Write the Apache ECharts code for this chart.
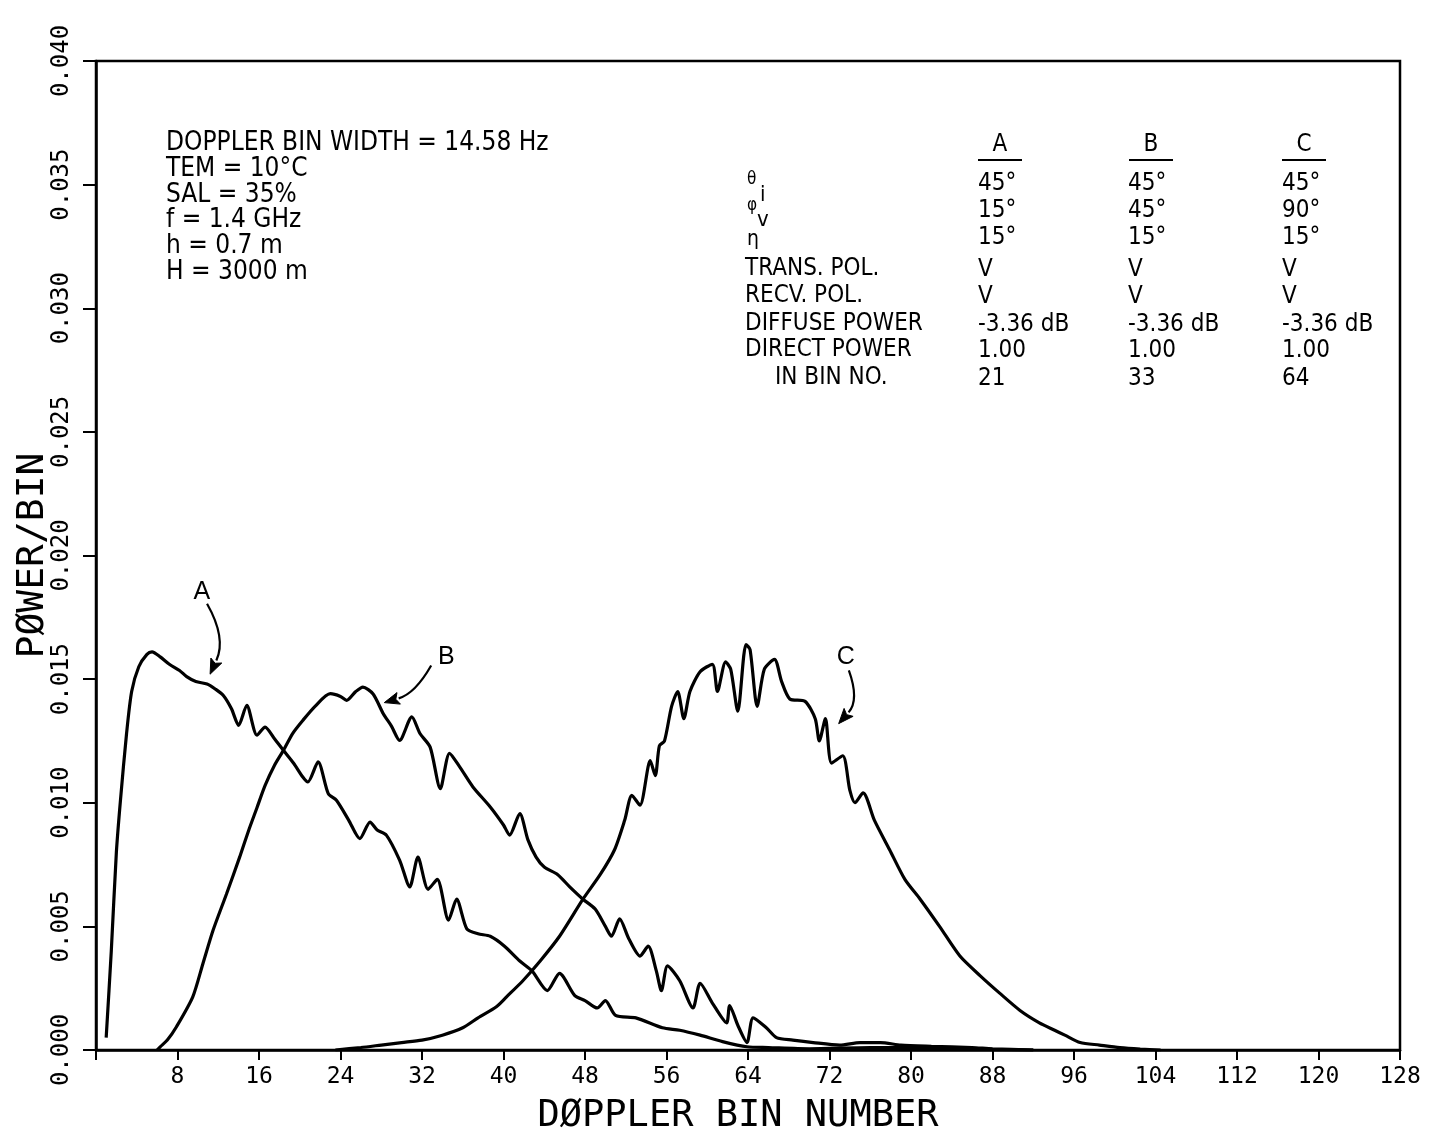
<!DOCTYPE html>
<html><head><meta charset="utf-8">
<script src="https://cdn.jsdelivr.net/npm/echarts@6/dist/echarts.min.js"></script>
<style>html,body{margin:0;padding:0;background:#fff}#c{width:1432px;height:1136px}</style>
</head><body><div id="c"></div><script>
// ---- data ----
const xTicks = [0, 8, 16, 24, 32, 40, 48, 56, 64, 72, 80, 88, 96, 104, 112, 120, 128];
const yTicks = [0, 0.005, 0.010, 0.015, 0.020, 0.025, 0.030, 0.035, 0.040];

const curveA = [[1.0,0.0005],[1.5,0.0040],[2.0,0.0080],[2.4,0.0101],[3.0,0.0128],[3.5,0.0145],[4.2,0.0155],[5.0,0.0160],[5.5,0.0161],[6.3,0.0159],[7.2,0.0156],[8.2,0.01535],[8.9,0.0151],[9.8,0.0149],[10.9,0.0148],[11.7,0.0146],[12.5,0.01434],[13.3,0.0138],[14.0,0.01313],[14.8,0.01394],[15.8,0.01273],[16.6,0.01306],[17.5,0.0126],[18.4,0.01212],[19.4,0.0116],[20.3,0.01104],[20.8,0.01084],[21.8,0.01165],[22.8,0.01037],[23.6,0.0101],[24.8,0.0093],[25.9,0.00855],[26.9,0.00922],[27.6,0.0089],[28.5,0.00869],[29.8,0.00768],[30.8,0.0066],[31.6,0.0078],[32.6,0.0065],[33.5,0.0069],[34.6,0.00525],[35.4,0.0061],[36.4,0.0049],[37.5,0.0047],[38.7,0.0046],[40.1,0.0042],[41.6,0.0036],[42.8,0.0032],[44.3,0.0024],[45.5,0.0031],[47.0,0.0022],[48.0,0.0020],[49.2,0.0017],[50.0,0.0020],[51.0,0.0014],[53.0,0.0013],[55.6,0.0009],[57.3,0.0008],[59.3,0.0006],[61.5,0.00034],[63.9,0.00013],[66,0.0001],[70,0.00005],[76,0.0001],[80,0.0001],[88,0.00003],[92,0]];

const curveB = [[6.0,0],[6.3,0.00013],[7.0,0.0004],[7.9,0.00094],[9.5,0.00215],[10.5,0.0035],[11.5,0.00485],[12.8,0.0063],[14.1,0.0078],[15.0,0.0089],[15.8,0.0098],[16.6,0.0107],[17.5,0.0115],[18.4,0.01212],[19.3,0.0128],[20.3,0.01333],[21.5,0.0139],[23.0,0.01441],[24.0,0.0143],[24.6,0.01414],[25.5,0.0145],[26.2,0.01468],[27.2,0.0144],[28.2,0.0136],[29.0,0.0131],[29.8,0.01252],[31.0,0.01347],[31.8,0.0128],[32.8,0.01225],[33.8,0.01057],[34.7,0.0120],[35.7,0.01145],[37.0,0.01064],[38.7,0.00983],[40.0,0.0091],[40.6,0.00869],[41.6,0.00956],[42.4,0.0085],[43.2,0.0078],[44.0,0.0074],[45.3,0.0071],[46.5,0.0066],[47.8,0.0061],[49.0,0.0057],[50.0,0.0050],[50.6,0.0046],[51.4,0.0053],[52.3,0.0045],[53.4,0.0038],[54.2,0.0042],[55.0,0.0032],[55.5,0.0024],[56.1,0.0034],[57.3,0.0028],[58.6,0.0017],[59.3,0.0027],[60.5,0.0019],[61.9,0.0011],[62.2,0.0018],[63.0,0.0010],[63.9,0.0003],[64.5,0.0013],[65.8,0.0009],[66.8,0.0005],[68.4,0.0004],[70.4,0.0003],[73,0.0002],[75,0.0003],[77,0.0003],[79,0.0002],[82,0.00015],[86,0.0001],[88,0.00005],[92,0]];

const curveC = [[23.5,0],[26,0.0001],[28,0.0002],[30,0.0003],[32,0.0004],[34,0.0006],[36,0.0009],[37.5,0.0013],[39.3,0.00175],[40.3,0.00215],[41.9,0.0028],[43.6,0.0036],[45.5,0.0046],[47.8,0.0061],[49.5,0.0071],[50.9,0.0081],[51.9,0.0093],[52.6,0.0103],[53.4,0.0099],[54.4,0.0117],[54.9,0.0111],[55.3,0.0123],[55.8,0.0125],[56.5,0.0139],[57.1,0.0145],[57.7,0.0134],[58.3,0.0145],[59.3,0.0153],[60.5,0.0156],[61.0,0.0145],[61.8,0.0157],[62.3,0.0154],[63.0,0.0137],[63.8,0.0164],[64.2,0.0162],[64.9,0.0139],[65.6,0.0154],[66.6,0.0158],[67.3,0.0149],[68.1,0.0142],[69.6,0.0141],[70.6,0.0134],[71.0,0.0125],[71.6,0.0134],[72.2,0.0116],[73.3,0.0119],[74.0,0.0105],[74.5,0.0100],[75.3,0.0104],[76.4,0.0093],[77.9,0.0081],[79.4,0.0069],[80.9,0.0061],[82.8,0.0050],[84.8,0.0038],[86.8,0.0030],[88.7,0.0023],[90.7,0.0016],[92.6,0.0011],[94.1,0.0008],[95.1,0.0006],[96.6,0.0003],[98.5,0.0002],[100.5,0.0001],[102.5,0.00004],[104.5,0]];

// annotation anchors in data coordinates (bow: sideways bulge of the arrow, px)
const noteA = {text:'A', label:[10.4,0.0185], from:[10.9,0.01805], to:[11.2,0.0152], bow:-9};
const noteB = {text:'B', label:[34.4,0.0159], from:[32.9,0.01555], to:[28.3,0.01405], bow:-6};
const noteC = {text:'C', label:[73.6,0.0159], from:[73.9,0.01535], to:[72.9,0.0132], bow:-8};
const notes = [noteA, noteB, noteC];

const leftInfo = ['DOPPLER BIN WIDTH = 14.58 Hz','TEM = 10°C','SAL = 35%','f = 1.4 GHz','h = 0.7 m','H = 3000 m'];
const tableCols = ['A','B','C'];
const tableRowLabels = ['','','','TRANS. POL.','RECV. POL.','DIFFUSE POWER','DIRECT POWER','IN BIN NO.'];
const colA = ['45°','15°','15°','V','V','-3.36 dB','1.00','21'];
const colB = ['45°','45°','15°','V','V','-3.36 dB','1.00','33'];
const colC = ['45°','90°','15°','V','V','-3.36 dB','1.00','64'];

// ---- chart ----
const FONT_T = "'DejaVu Sans Condensed','Liberation Sans Narrow','DejaVu Sans',sans-serif";
const FONT_AX = "'DejaVu Sans Mono','Liberation Mono',monospace";

function mkSeries(name, data, n){
  return {
    name, type:'line', data, showSymbol:false, symbol:'none', smooth:0.25,
    lineStyle:{color:'#000', width:3.2}, z:3,
    markPoint: {
      silent: true, animation: false,
      data: [{coord:n.label, symbol:'circle', symbolSize:1, itemStyle:{color:'rgba(0,0,0,0)'},
        label:{show:true, position:'inside', formatter:n.text, color:'#000', fontSize:25, fontFamily:"'Liberation Sans','DejaVu Sans',sans-serif"}}]
    }
  };
}

const graphic = [];
leftInfo.forEach((t,i)=>{
  graphic.push({type:'text', x:166, y:143 + i*25.9, style:{text:t, fill:'#000', font:"26px "+FONT_T, verticalAlign:'middle'}});
});
const colX = [978, 1128, 1282];
const headCX = [1000, 1151, 1304];
const rowY = [184, 211, 238, 270, 297, 325, 351, 379];
tableCols.forEach((c,i)=>{
  graphic.push({type:'text', x:headCX[i], y:145, style:{text:c, fill:'#000', font:"24px "+FONT_T, align:'center', verticalAlign:'middle'}});
  graphic.push({type:'line', shape:{x1:headCX[i]-22, y1:160, x2:headCX[i]+22, y2:160}, style:{stroke:'#000', lineWidth:2}});
});
[colA,colB,colC].forEach((col,ci)=>{
  col.forEach((v,ri)=>{
    graphic.push({type:'text', x:colX[ci], y:rowY[ri], style:{text:v, fill:'#000', font:"24px "+FONT_T, verticalAlign:'middle'}});
  });
});
tableRowLabels.forEach((t,ri)=>{
  if(!t) return;
  graphic.push({type:'text', x: ri===7 ? 775 : 745, y:rowY[ri]-1, style:{text:t, fill:'#000', font:"24px "+FONT_T, verticalAlign:'middle'}});
});
graphic.push({type:'text', x:747, y:180, style:{text:'θ', fill:'#000', font:"17px "+FONT_T, verticalAlign:'middle'}});
graphic.push({type:'text', x:760, y:195, style:{text:'i', fill:'#000', font:"22px "+FONT_T, verticalAlign:'middle'}});
graphic.push({type:'text', x:747, y:206, style:{text:'φ', fill:'#000', font:"17px "+FONT_T, verticalAlign:'middle'}});
graphic.push({type:'text', x:757, y:220, style:{text:'v', fill:'#000', font:"22px "+FONT_T, verticalAlign:'middle'}});
graphic.push({type:'text', x:747, y:240, style:{text:'η', fill:'#000', font:"21px "+FONT_T, verticalAlign:'middle'}});

const chart = echarts.init(document.getElementById('c'), null, {renderer:'canvas'});
const option = {
  animation: false,
  backgroundColor: '#fff',
  grid: {left:96, right:32, top:61, bottom:86, show:true, borderColor:'#000', borderWidth:2.5,
    backgroundColor:'rgba(0,0,0,0)', containLabel:false, outerBoundsMode:'none'},
  xAxis: {
    type:'value', min:0, max:128, interval:8,
    name:'DØPPLER BIN NUMBER', nameLocation:'middle', nameGap:48,
    nameTextStyle:{fontFamily:FONT_AX, fontSize:37, color:'#000', padding:[0,20,0,0]},
    axisLine:{show:true, onZero:false, lineStyle:{color:'#000', width:2.5}},
    axisTick:{show:true, inside:false, length:10, lineStyle:{color:'#000', width:2}},
    axisLabel:{color:'#000', fontFamily:FONT_AX, fontSize:23, margin:16,
      formatter: v => (v===0 ? '' : String(v))},
    splitLine:{show:false}
  },
  yAxis: {
    type:'value', min:0, max:0.04, interval:0.005,
    name:'PØWER/BIN', nameLocation:'middle', nameGap:44, nameRotate:90, nameMoveOverlap:false,
    nameTextStyle:{fontFamily:FONT_AX, fontSize:38, color:'#000'},
    axisLine:{show:true, lineStyle:{color:'#000', width:2.5}},
    axisTick:{show:true, inside:false, length:13, lineStyle:{color:'#000', width:2}},
    axisLabel:{color:'#000', fontFamily:FONT_AX, fontSize:24, rotate:90, margin:22,
      formatter: v => v.toFixed(3)},
    splitLine:{show:false}
  },
  series: [
    mkSeries('A', curveA, noteA),
    mkSeries('B', curveB, noteB),
    mkSeries('C', curveC, noteC)
  ],
  graphic: graphic
};
chart.setOption(option);

// arrows: endpoints converted through the chart's own scales
const arrowEls = [];
notes.forEach(n=>{
  const p1 = chart.convertToPixel({gridIndex:0}, n.from);
  const p2 = chart.convertToPixel({gridIndex:0}, n.to);
  const dx = p2[0]-p1[0], dy = p2[1]-p1[1];
  const L = Math.hypot(dx,dy);
  const nx = -dy/L, ny = dx/L;
  const cx = (p1[0]+p2[0])/2 + nx*n.bow*2, cy = (p1[1]+p2[1])/2 + ny*n.bow*2;
  let tx = p2[0]-cx, ty = p2[1]-cy; const tl = Math.hypot(tx,ty); tx/=tl; ty/=tl;
  const hl = 15, hw = 6;
  const bx = p2[0]-tx*hl, by = p2[1]-ty*hl;
  arrowEls.push({type:'bezierCurve', shape:{x1:p1[0], y1:p1[1], x2:bx, y2:by, cpx1:cx, cpy1:cy},
    style:{stroke:'#000', lineWidth:2.2, fill:null}, z:10});
  arrowEls.push({type:'polygon', shape:{points:[[p2[0],p2[1]],[bx-ty*hw, by+tx*hw],[bx+tx*3, by+ty*3],[bx+ty*hw, by-tx*hw]]},
    style:{fill:'#000', stroke:'#000', lineWidth:1}, z:10});
});
chart.setOption({graphic: graphic.concat(arrowEls)});
</script></body></html>
